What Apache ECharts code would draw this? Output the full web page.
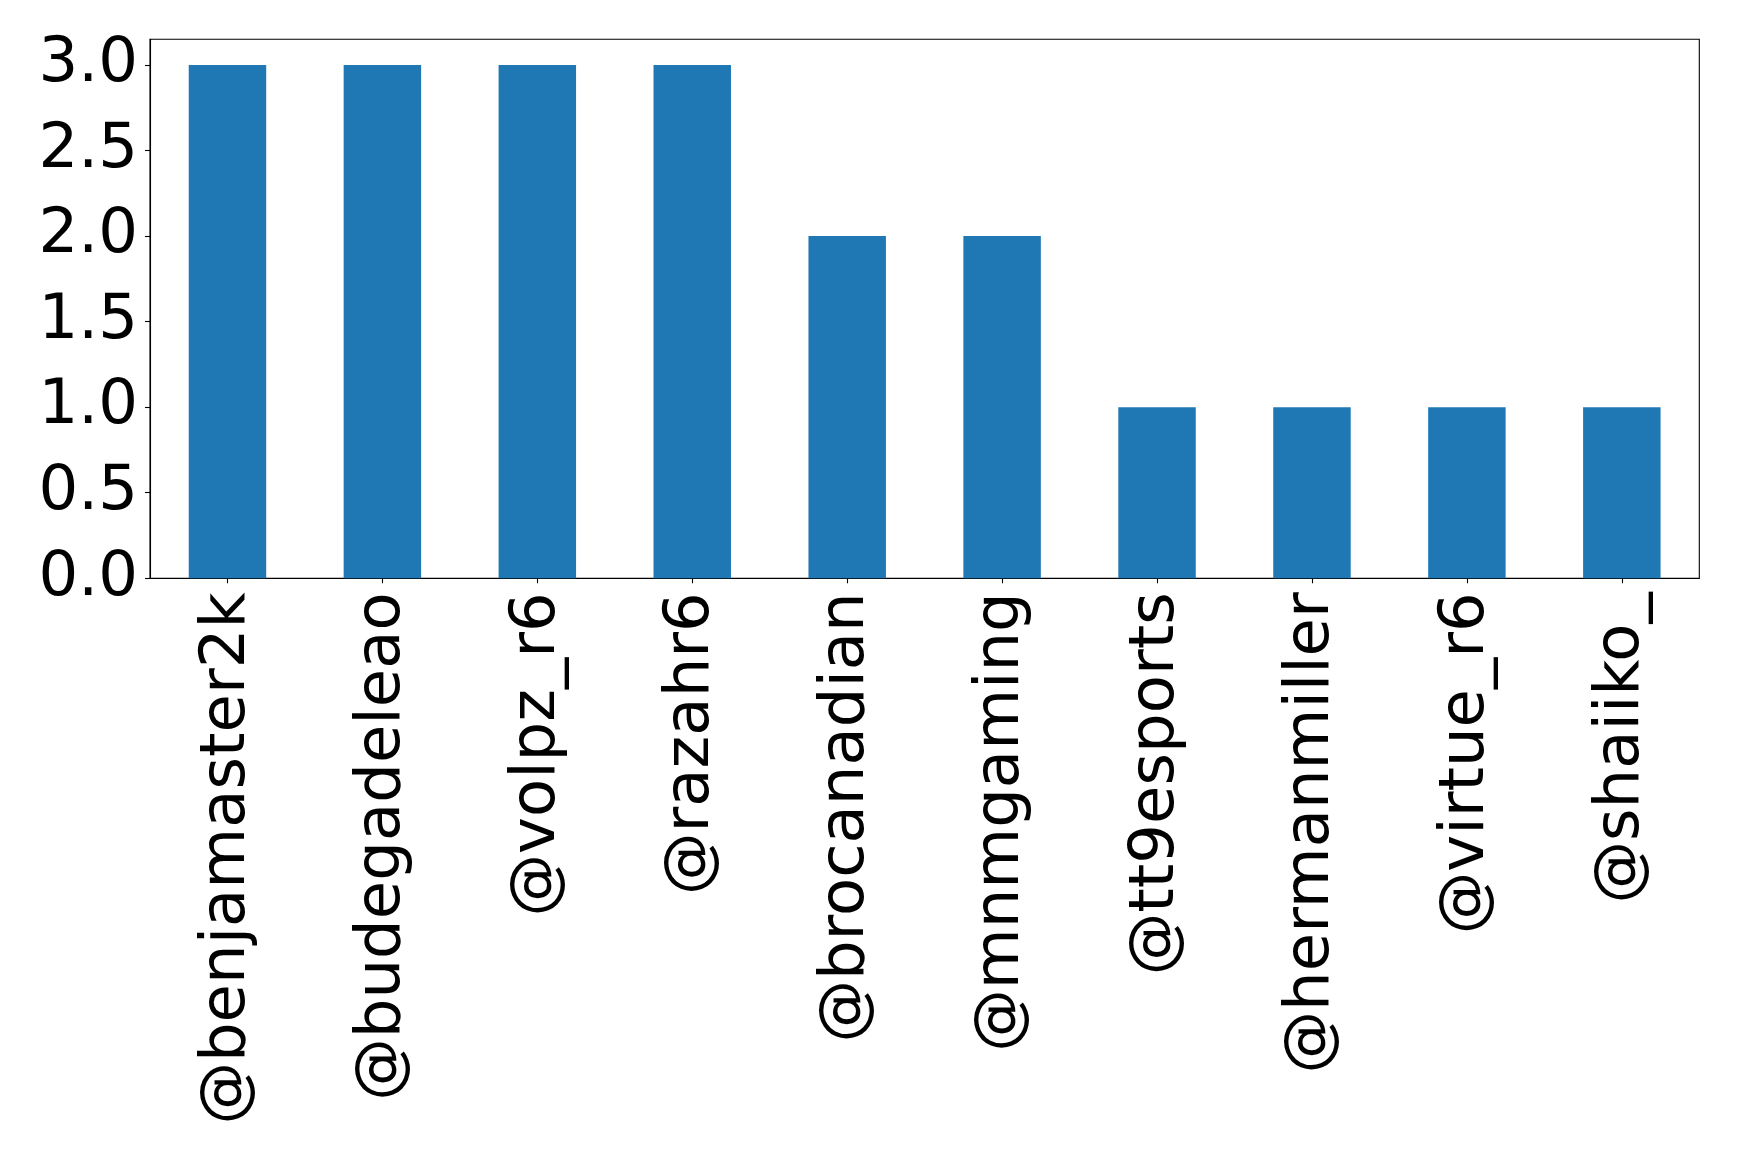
<!DOCTYPE html>
<html>
<head>
<meta charset="utf-8">
<script src="https://cdn.jsdelivr.net/npm/echarts@6/dist/echarts.min.js"></script>
<style>html,body{margin:0;padding:0;background:#fff;}#c{width:1739px;height:1160px;}</style>
</head>
<body>
<div id="c"></div>
<script>
const categories = ['@benjamaster2k','@budegadeleao','@volpz_r6','@razahr6','@brocanadian','@mnmgaming','@tt9esports','@hermanmiller','@virtue_r6','@shaiiko_'];
const values = [3, 3, 3, 3, 2, 2, 1, 1, 1, 1];
const yTicks = [0, 0.5, 1.0, 1.5, 2.0, 2.5, 3.0];

const chart = echarts.init(document.getElementById('c'), null, {renderer: 'canvas'});
const font = 'DejaVu Sans';
chart.setOption({
  animation: false,
  backgroundColor: '#ffffff',
  grid: {left: 150, top: 39.3, right: 39.7, bottom: 581.7, show: true, borderColor: '#000', borderWidth: 1.1, containLabel: false},
  xAxis: {
    type: 'category',
    data: categories,
    boundaryGap: true,
    axisLine: {show: true, lineStyle: {color: '#000', width: 1.1}},
    axisTick: {show: true, alignWithLabel: true, length: 5, lineStyle: {color: '#000', width: 1.1}},
    axisLabel: {rotate: 90, interval: 0, margin: 14, fontSize: 62.5, fontFamily: font, color: '#000'},
    splitLine: {show: false}
  },
  yAxis: {
    type: 'value',
    min: 0,
    max: 3.15,
    interval: 0.5,
    axisLine: {show: true, lineStyle: {color: '#000', width: 1.1}},
    axisTick: {show: true, length: 5, lineStyle: {color: '#000', width: 1.1}, customValues: yTicks},
    axisLabel: {fontSize: 62.5, fontFamily: font, color: '#000', margin: 12, customValues: yTicks, formatter: v => Number(v).toFixed(1)},
    splitLine: {show: false}
  },
  series: [{
    type: 'bar',
    data: values,
    barWidth: '50%',
    itemStyle: {color: '#1f77b4'}
  }]
});
</script>
</body>
</html>
